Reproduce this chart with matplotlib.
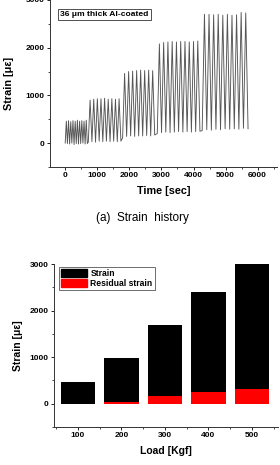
import matplotlib
matplotlib.use("Agg")
import matplotlib.pyplot as plt
from matplotlib.ticker import MultipleLocator
from matplotlib.patches import Patch

plt.rcParams['font.family'] = ['Liberation Sans', 'DejaVu Sans']

# ---- (a) strain history: turning points (time [sec], strain [micro-strain]) ----
hist_time = [0, 35, 69, 104, 138, 173, 207, 242, 276, 311, 345, 380, 414, 449, 483, 518, 552, 587, 621, 656, 690,
             720, 776, 833, 889, 946, 1002, 1059, 1115, 1172, 1228, 1285, 1341, 1398, 1454, 1511, 1567, 1624, 1680, 1737,
             1790, 1852, 1915, 1977, 2040, 2102, 2165, 2227, 2290, 2352, 2415, 2477, 2540, 2602, 2665, 2727, 2790,
             2870, 2936, 3003, 3069, 3136, 3202, 3269, 3335, 3402, 3468, 3535, 3601, 3668, 3734, 3801, 3867, 3934, 4000, 4067, 4133, 4200,
             4270, 4341, 4413, 4484, 4556, 4627, 4699, 4770, 4842, 4913, 4985, 5056, 5128, 5199, 5271, 5342, 5414, 5485, 5557, 5628, 5700]
hist_strain = [0, 460, -10, 470, -20, 450, 0, 470, -30, 460, -10, 480, -20, 460, -10, 470, 0, 460, -20, 480, -10,
               20, 900, 30, 920, 20, 930, 40, 930, 30, 940, 40, 920, 30, 930, 40, 920, 30, 930, 40,
               110, 1460, 140, 1500, 150, 1510, 140, 1520, 150, 1530, 150, 1520, 160, 1530, 150, 1520, 170,
               200, 2080, 220, 2110, 230, 2120, 220, 2130, 230, 2120, 240, 2130, 230, 2130, 240, 2120, 230, 2130, 240, 2140, 250,
               260, 2700, 280, 2700, 270, 2690, 290, 2700, 280, 2680, 300, 2700, 290, 2680, 300, 2690, 290, 2740, 310, 2730, 300]

# ---- (b) strain vs load ----
loads = [100, 200, 300, 400, 500]
strain = [470, 980, 1700, 2400, 3000]
residual = [0, 40, 160, 250, 310]

fig = plt.figure(figsize=(2.8, 4.65), dpi=100)

tick_kw = dict(labelsize=6, width=0.6, length=2, direction='out', pad=2)

def style(ax):
    for s in ['top', 'right']:
        ax.spines[s].set_visible(False)
    for s in ['left', 'bottom']:
        ax.spines[s].set_linewidth(0.7)
        ax.spines[s].set_color('#333333')
    ax.tick_params(which='major', **tick_kw)
    ax.tick_params(which='minor', length=1.2, width=0.5, direction='out')
    for lab in ax.get_xticklabels() + ax.get_yticklabels():
        lab.set_fontweight('bold')

# top axes
ax1 = fig.add_axes([0.179, 0.641, 0.81, 0.359])
ax1.plot(hist_time, hist_strain, color='#555555', lw=0.65)
ax1.set_xlim(-470, 6600)
ax1.set_ylim(-500, 3000)
ax1.set_xticks([0, 1000, 2000, 3000, 4000, 5000, 6000])
ax1.set_yticks([0, 1000, 2000, 3000])
ax1.xaxis.set_minor_locator(MultipleLocator(500))
ax1.yaxis.set_minor_locator(MultipleLocator(500))
style(ax1)
ax1.set_xlabel('Time [sec]', fontsize=7.8, fontweight='bold', labelpad=5)
ax1.set_ylabel('Strain [\u03bc\u03b5]', fontsize=7.8, fontweight='bold', labelpad=8)
ax1.text(0.045, 0.915, '36 \u03bcm thick Al-coated', transform=ax1.transAxes, fontsize=6.1,
         fontweight='bold', va='center', ha='left',
         bbox=dict(boxstyle='square,pad=0.22', fc='white', ec='#333333', lw=0.6))

fig.text(0.508, 0.532, '(a)  Strain  history', ha='center', va='center', fontsize=8.5)

# bottom axes
ax2 = fig.add_axes([0.193, 0.082, 0.8, 0.35])
ax2.bar(loads, strain, width=80, color='black', label='Strain')
ax2.bar(loads, residual, width=80, color='#ff0000', label='Residual strain')
ax2.set_xlim(45, 560)
ax2.set_ylim(-500, 3000)
ax2.set_xticks(loads)
ax2.set_yticks([0, 1000, 2000, 3000])
ax2.xaxis.set_minor_locator(MultipleLocator(50))
ax2.yaxis.set_minor_locator(MultipleLocator(500))
style(ax2)
ax2.set_xlabel('Load [Kgf]', fontsize=7.5, fontweight='bold', labelpad=5)
ax2.set_ylabel('Strain [\u03bc\u03b5]', fontsize=7.5, fontweight='bold', labelpad=5)
handles = [Patch(fc='black', ec='black'), Patch(fc='#ff0000', ec='#ff0000')]
leg = ax2.legend(handles, ['Strain', 'Residual strain'], loc='upper left',
                 bbox_to_anchor=(0.01, 1.0), prop=dict(size=6.2, weight='bold'),
                 fancybox=False, edgecolor='#555555', framealpha=1,
                 handlelength=3.0, handleheight=1.0, handletextpad=0.4,
                 borderpad=0.25, labelspacing=0.1, borderaxespad=0.3)
leg.get_frame().set_linewidth(0.6)

fig.savefig('out.png', dpi=100)
